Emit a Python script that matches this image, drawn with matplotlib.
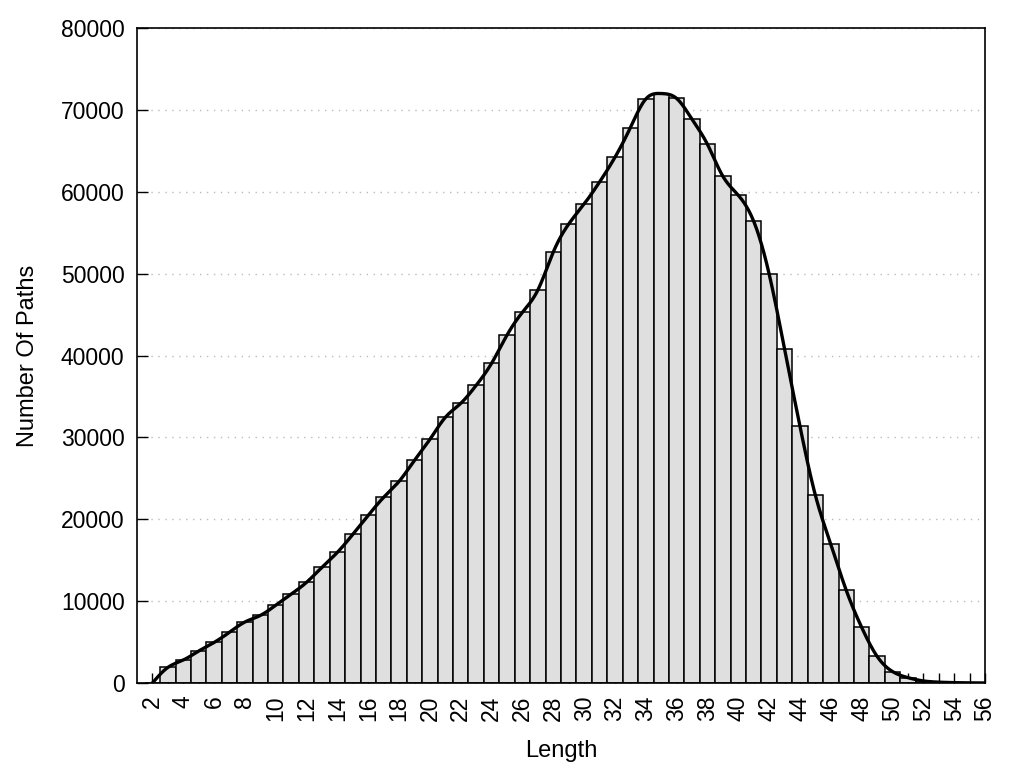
import numpy as np
import matplotlib
matplotlib.use('Agg')
import matplotlib.pyplot as plt

plt.rcParams['font.family'] = ['Liberation Sans', 'DejaVu Sans']

# path length histogram
lengths = list(range(2, 57))
counts = [0, 1900, 2800, 3900, 4950, 6200, 7450, 8250, 9500, 10850,
          12300, 14130, 15960, 18160, 20480, 22680, 24630, 27200, 29760, 32450,
          34160, 36360, 39050, 42500, 45280, 48000, 52640, 56060, 58500, 61190,
          64210, 67830, 71330, 72000, 71400, 68850, 65790, 61890, 59570, 56390,
          49960, 40790, 31350, 22920, 16940, 11320, 6800, 3260, 1400, 650,
          250, 100, 40, 15, 0]

y_ticks = list(range(0, 80001, 10000))


def natural_spline(x, y, xs):
    # natural cubic spline through the data points (like gnuplot csplines)
    x = np.asarray(x, float)
    y = np.asarray(y, float)
    n = len(x)
    h = np.diff(x)
    A = np.zeros((n, n))
    b = np.zeros(n)
    A[0, 0] = 1
    A[-1, -1] = 1
    for i in range(1, n - 1):
        A[i, i - 1] = h[i - 1]
        A[i, i] = 2 * (h[i - 1] + h[i])
        A[i, i + 1] = h[i]
        b[i] = 6 * ((y[i + 1] - y[i]) / h[i] - (y[i] - y[i - 1]) / h[i - 1])
    M = np.linalg.solve(A, b)
    idx = np.clip(np.searchsorted(x, xs) - 1, 0, n - 2)
    x0, x1 = x[idx], x[idx + 1]
    hh = x1 - x0
    t0 = x1 - xs
    t1 = xs - x0
    return (M[idx] * t0 ** 3 / (6 * hh) + M[idx + 1] * t1 ** 3 / (6 * hh)
            + (y[idx] / hh - M[idx] * hh / 6) * t0
            + (y[idx + 1] / hh - M[idx + 1] * hh / 6) * t1)


fig = plt.figure(figsize=(10.24, 7.68), dpi=100)
ax = fig.add_axes([0.1338, 0.1107, 0.8281, 0.8528])

ax.bar(lengths, counts, width=1.0, color='#dfdfdf', edgecolor='black',
       linewidth=1.1, zorder=2)

xs = np.linspace(lengths[0], lengths[-1], 1000)
ax.plot(xs, natural_spline(lengths, counts, xs), color='black', linewidth=2.4,
        zorder=3)

ax.set_xlim(1, 56)
ax.set_ylim(0, 80000)
ax.set_yticks(y_ticks)
ax.set_yticklabels([str(v) for v in y_ticks])
ax.set_xticks(lengths)
ax.set_xticklabels([str(v) if v % 2 == 0 else '' for v in lengths])

ax.grid(axis='y', linestyle=(0, (1, 4)), color='#bbbbbb', linewidth=1.0,
        zorder=1)
ax.set_axisbelow(True)

ax.tick_params(axis='x', direction='in', length=7, width=1, rotation=90,
               labelsize=16.5, pad=9)
ax.tick_params(axis='y', direction='in', length=8, width=1, labelsize=16.5,
               pad=9)
for sp in ax.spines.values():
    sp.set_linewidth(1.2)

ax.set_xlabel('Length', fontsize=17, labelpad=14)
ax.set_ylabel('Number Of Paths', fontsize=17, labelpad=16)

fig.savefig('out.png', dpi=100)
